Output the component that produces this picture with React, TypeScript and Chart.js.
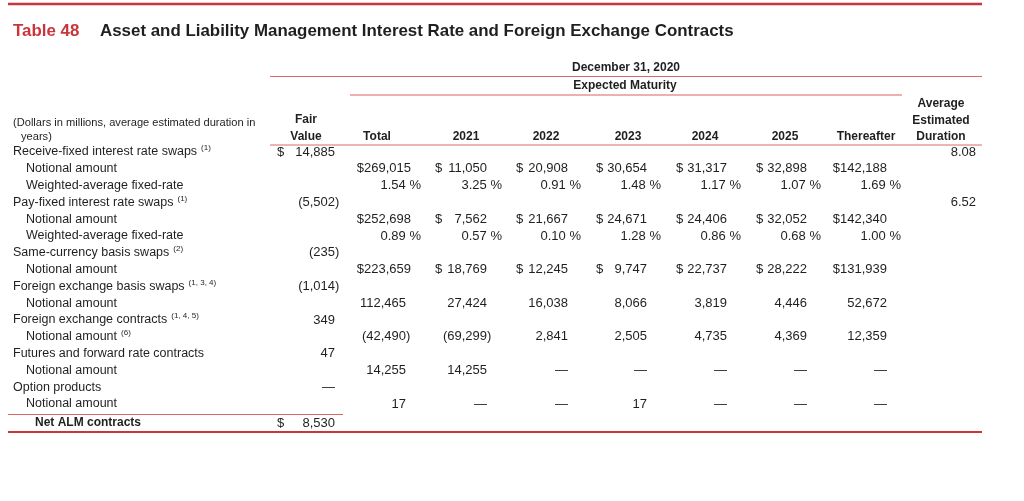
import React, { useEffect, useRef } from 'react';
import { Chart, registerables } from 'chart.js';

Chart.register(...registerables);

// ---------- DATA ----------
const tableNo = 'Table 48';
const title = 'Asset and Liability Management Interest Rate and Foreign Exchange Contracts';
const periodLabel = 'December 31, 2020';
const maturityLabel = 'Expected Maturity';
const unitNote = ['(Dollars in millions, average estimated duration in', 'years)'];
const fairValueHeader = ['Fair', 'Value'];
const durationHeader = ['Average', 'Estimated', 'Duration'];
const columnHeaders = ['Total', '2021', '2022', '2023', '2024', '2025', 'Thereafter'];

const rowLabels = [
  'Receive-fixed interest rate swaps',
  'Notional amount',
  'Weighted-average fixed-rate',
  'Pay-fixed interest rate swaps',
  'Notional amount',
  'Weighted-average fixed-rate',
  'Same-currency basis swaps',
  'Notional amount',
  'Foreign exchange basis swaps',
  'Notional amount',
  'Foreign exchange contracts',
  'Notional amount',
  'Futures and forward rate contracts',
  'Notional amount',
  'Option products',
  'Notional amount',
];
const rowNotes = ['(1)', '', '', '(1)', '', '', '(2)', '', '(1, 3, 4)', '', '(1, 4, 5)', '(6)', '', '', '', ''];
const rowIsSub = [false, true, true, false, true, true, false, true, false, true, false, true, false, true, false, true];
const rowFormats = ['', 'dollar', 'pct', '', 'dollar', 'pct', '', 'dollar', '', 'plain', '', 'plain', '', 'plain', '', 'plain'];

const fairValues = [14885, null, null, -5502, null, null, -235, null, -1014, null, 349, null, 47, null, 0, null];
const durations = [8.08, null, null, 6.52, null, null, null, null, null, null, null, null, null, null, null, null];

const totalCol = [null, 269015, 1.54, null, 252698, 0.89, null, 223659, null, 112465, null, -42490, null, 14255, null, 17];
const y2021Col = [null, 11050, 3.25, null, 7562, 0.57, null, 18769, null, 27424, null, -69299, null, 14255, null, 0];
const y2022Col = [null, 20908, 0.91, null, 21667, 0.10, null, 12245, null, 16038, null, 2841, null, 0, null, 0];
const y2023Col = [null, 30654, 1.48, null, 24671, 1.28, null, 9747, null, 8066, null, 2505, null, 0, null, 17];
const y2024Col = [null, 31317, 1.17, null, 24406, 0.86, null, 22737, null, 3819, null, 4735, null, 0, null, 0];
const y2025Col = [null, 32898, 1.07, null, 32052, 0.68, null, 28222, null, 4446, null, 4369, null, 0, null, 0];
const thereafterCol = [null, 142188, 1.69, null, 142340, 1.0, null, 131939, null, 52672, null, 12359, null, 0, null, 0];

const netLabel = 'Net ALM contracts';
const netFairValue = 8530;

// ---------- LAYOUT / STYLE ----------
const FONT = '"Liberation Sans", Arial, sans-serif';
const RED = '#c8363c';
const THIN_RED = '#d66a6a';
const PALE_RED = '#ebb1b1';
const INK = '#1f1f1f';

const ROW_Y0 = 152;
const ROW_STEP = 16.8;
const NET_Y = 423;

const colLayout = [
  { head: 377, dollarLeft: 355, right: 406, dollarRight: 411, pctRight: 421 },
  { head: 466, dollarLeft: 435, right: 487, dollarRight: 487, pctRight: 502 },
  { head: 546, dollarLeft: 516, right: 568, dollarRight: 568, pctRight: 581 },
  { head: 628, dollarLeft: 596, right: 647, dollarRight: 647, pctRight: 661 },
  { head: 705, dollarLeft: 676, right: 727, dollarRight: 727, pctRight: 741 },
  { head: 785, dollarLeft: 756, right: 807, dollarRight: 807, pctRight: 821 },
  { head: 866, dollarLeft: 835, right: 887, dollarRight: 887, pctRight: 901 },
];

const fmt = (n: number) => Math.abs(n).toLocaleString('en-US');

const tablePlugin = {
  id: 'tableDraw',
  afterDraw(chart: any) {
    const ctx: CanvasRenderingContext2D = chart.ctx;
    const X = (v: number) => chart.scales.x.getPixelForValue(v);
    const Y = (v: number) => chart.scales.y.getPixelForValue(v);
    const rowY = (i: number) => ROW_Y0 + ROW_STEP * i;

    const line = (x1: number, x2: number, y: number, color: string, w: number) => {
      ctx.save();
      ctx.strokeStyle = color;
      ctx.lineWidth = w;
      ctx.beginPath();
      ctx.moveTo(X(x1), Y(y));
      ctx.lineTo(X(x2), Y(y));
      ctx.stroke();
      ctx.restore();
    };
    const text = (s: string, x: number, y: number, align: CanvasTextAlign, font: string, color = INK) => {
      ctx.save();
      ctx.font = font;
      ctx.fillStyle = color;
      ctx.textAlign = align;
      ctx.textBaseline = 'middle';
      ctx.fillText(s, X(x), Y(y));
      ctx.restore();
    };
    const width = (s: string, font: string) => {
      ctx.save();
      ctx.font = font;
      const w = ctx.measureText(s).width;
      ctx.restore();
      return w;
    };

    const fBody = `12.5px ${FONT}`;
    const fNum = `13px ${FONT}`;
    const fBold = `bold 12px ${FONT}`;
    const fNote = `11.1px ${FONT}`;
    const fSup = `8px ${FONT}`;
    const fTitle = `bold 16.9px ${FONT}`;

    // rules
    line(8, 982, 4, RED, 2.5);
    line(270, 982, 76.5, THIN_RED, 1);
    line(350, 902, 95, PALE_RED, 2);
    line(270, 982, 145, THIN_RED, 1);
    line(8, 343, 414.5, THIN_RED, 1);
    line(8, 982, 432, RED, 2);

    // title
    text(tableNo, 13, 31, 'left', fTitle, RED);
    text(title, 100, 31, 'left', fTitle, INK);

    // headers
    text(periodLabel, 626, 68, 'center', fBold);
    text(maturityLabel, 625, 86, 'center', fBold);
    text(unitNote[0], 13, 123, 'left', fNote);
    text(unitNote[1], 21, 136.5, 'left', fNote);
    text(fairValueHeader[0], 306, 120, 'center', fBold);
    text(fairValueHeader[1], 306, 136.5, 'center', fBold);
    durationHeader.forEach((h, k) => text(h, 941, 104 + 16.3 * k, 'center', fBold));
    columnHeaders.forEach((h, c) => text(h, colLayout[c].head, 136.5, 'center', fBold));

    const closeW = width(')', fNum);
    const dollarW = width('$', fNum);

    // row labels
    rowLabels.forEach((lab, i) => {
      const x = rowIsSub[i] ? 26 : 13;
      const y = rowY(i);
      text(lab, x, y, 'left', fBody);
      if (rowNotes[i]) {
        const w = width(lab, fBody);
        text(rowNotes[i], x + w + 4, y - 4, 'left', fSup);
      }
    });

    const drawPlain = (v: number, right: number, y: number) => {
      if (v === 0) {
        text('\u2014', right, y, 'right', fNum);
      } else if (v < 0) {
        text(`(${fmt(v)})`, right + closeW, y, 'right', fNum);
      } else {
        text(fmt(v), right, y, 'right', fNum);
      }
    };

    const drawDollar = (v: number, left: number, right: number, y: number) => {
      const s = fmt(v);
      const w = width(s, fNum);
      if (right - w - (left + dollarW) < 2) {
        text('$' + s, right, y, 'right', fNum);
      } else {
        text('$', left, y, 'left', fNum);
        text(s, right, y, 'right', fNum);
      }
    };

    // fair values
    fairValues.forEach((v, i) => {
      if (v === null) return;
      const y = rowY(i);
      if (i === 0) {
        drawDollar(v, 277, 335, y);
      } else {
        drawPlain(v, 335, y);
      }
    });

    // durations
    durations.forEach((v, i) => {
      if (v === null) return;
      text(v.toFixed(2), 976, rowY(i), 'right', fNum);
    });

    // maturity columns
    const cols = [totalCol, y2021Col, y2022Col, y2023Col, y2024Col, y2025Col, thereafterCol];
    cols.forEach((col, c) => {
      const L = colLayout[c];
      col.forEach((v, i) => {
        if (v === null) return;
        const y = rowY(i);
        const f = rowFormats[i];
        if (f === 'dollar') {
          drawDollar(v, L.dollarLeft, L.dollarRight, y);
        } else if (f === 'pct') {
          text(`${v.toFixed(2)} %`, L.pctRight, y, 'right', fNum);
        } else {
          drawPlain(v, L.right, y);
        }
      });
    });

    // net
    text(netLabel, 35, NET_Y, 'left', `bold 12px ${FONT}`);
    drawDollar(netFairValue, 277, 335, NET_Y);
  },
};

export default function App() {
  const ref = useRef<HTMLCanvasElement>(null);
  useEffect(() => {
    if (!ref.current) return;
    const chart = new Chart(ref.current, {
      type: 'scatter',
      data: { datasets: [] },
      options: {
        animation: false,
        responsive: false,
        devicePixelRatio: 1,
        layout: { padding: 0 },
        plugins: { legend: { display: false }, tooltip: { enabled: false } },
        scales: {
          x: { type: 'linear', display: false, min: 0, max: 1024 },
          y: { type: 'linear', display: false, min: 0, max: 501, reverse: true },
        },
      },
      plugins: [tablePlugin],
    });
    return () => chart.destroy();
  }, []);
  return (
    <div style={{ position: 'absolute', left: 0, top: 0, width: 1024, height: 501, background: '#fff' }}>
      <canvas ref={ref} width={1024} height={501} />
    </div>
  );
}
